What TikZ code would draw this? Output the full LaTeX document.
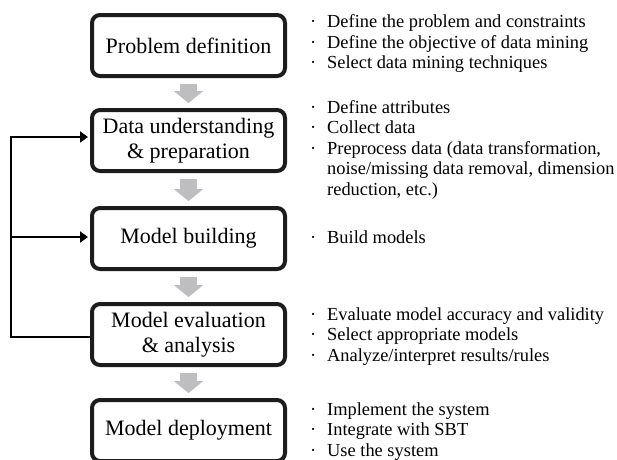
\documentclass[tikz,border=0pt]{standalone}
\usepackage{fontspec}
\setmainfont{Liberation Serif}
\usetikzlibrary{arrows.meta}
\definecolor{arrowgray}{RGB}{190,190,192}
\definecolor{boxline}{RGB}{28,28,28}
\begin{document}
\begin{tikzpicture}[x=1pt,y=-1pt,
  stage/.style={draw=boxline, line width=4pt, rounded corners=8pt, minimum width=193pt, minimum height=61pt, align=center, font=\fontsize{22}{25}\selectfont, inner sep=0pt},
  flowarrow/.style={draw=arrowgray, fill=arrowgray, line width=17pt, -{Triangle[width=29pt,length=12pt]}},
  fbline/.style={line width=2pt, draw=black, line join=miter},
  fbarrow/.style={fbline, -{Triangle[width=11pt,length=8pt]}, shorten >=2pt},
  item/.style={anchor=base west, inner sep=0pt, font=\fontsize{18.4}{20.5}\selectfont}
]
\clip (0,0) rectangle (617,459);
\fill[white] (0,0) rectangle (617,459);

% stages
\node[stage] (b1) at (188.5,45.5) {Problem definition};
\node[stage] (b2) at (188.5,140.5) {Data understanding\\\& preparation};
\node[stage] (b3) at (188.5,238.5) {Model building};
\node[stage] (b4) at (188.5,334.5) {Model evaluation\\\& analysis};
\node[stage] (b5) at (188.5,430.5) {Model deployment};

% gray flow arrows
\draw[flowarrow] ([yshift=-6pt]b1.south) -- ([yshift=5pt]b2.north);
\draw[flowarrow] ([yshift=-6pt]b2.south) -- ([yshift=5pt]b3.north);
\draw[flowarrow] ([yshift=-6pt]b3.south) -- ([yshift=5pt]b4.north);
\draw[flowarrow] ([yshift=-6pt]b4.south) -- ([yshift=5pt]b5.north);

% feedback loop
\coordinate (fbbot) at (11,337);
\coordinate (fbtop) at (11,137);
\coordinate (fbmid) at (11,237);
\draw[fbarrow] ([yshift=-2.5pt]b4.west) -- (fbbot) -- (fbtop) -- ([yshift=3.5pt]b2.west);
\draw[fbarrow] (fbmid) -- ([yshift=1.5pt]b3.west);

% descriptions
\newcommand{\bul}{\makebox[17pt][l]{\textperiodcentered}}
\node[item] (t1a) at (310,27.5) {\bul Define the problem and constraints};
\node[item] (t1b) at (310,48.2) {\bul Define the objective of data mining};
\node[item] (t1c) at (310,68.9) {\bul Select data mining techniques};

\node[item] (t2a) at (310,113) {\bul Define attributes};
\node[item] (t2b) at (310,133.5) {\bul Collect data};
\node[item] (t2c) at (310,154) {\bul Preprocess data (data transformation,};
\node[item] (t2d) at (327,174.5) {noise/missing data removal, dimension};
\node[item] (t2e) at (327,195) {reduction, etc.)};

\node[item] (t3a) at (310,243) {\bul Build models};

\node[item] (t4a) at (310,320) {\bul Evaluate model accuracy and validity};
\node[item] (t4b) at (310,340.5) {\bul Select appropriate models};
\node[item] (t4c) at (310,361) {\bul Analyze/interpret results/rules};

\node[item] (t5a) at (310,415) {\bul Implement the system};
\node[item] (t5b) at (310,435.5) {\bul Integrate with SBT};
\node[item] (t5c) at (310,456) {\bul Use the system};
\end{tikzpicture}
\end{document}
